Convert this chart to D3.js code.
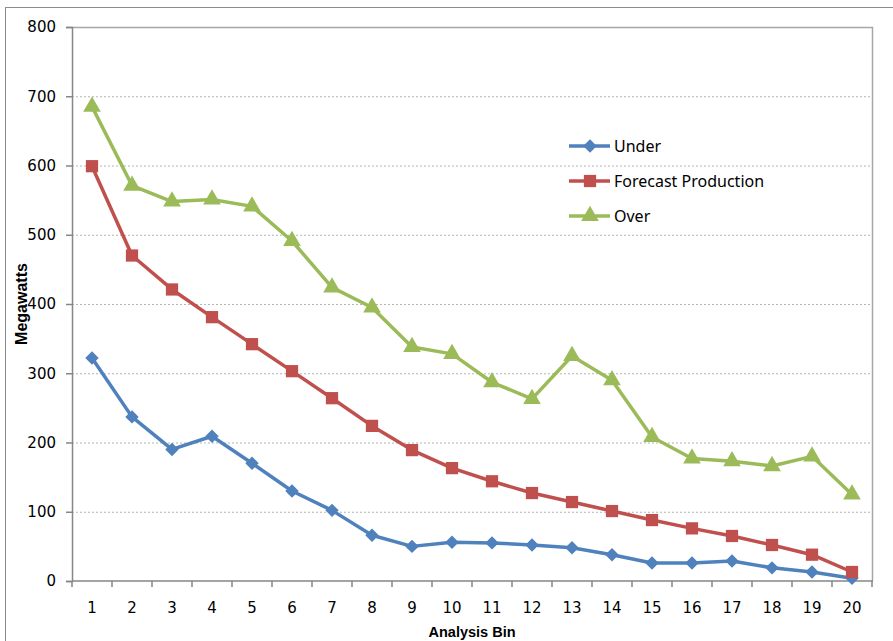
<!DOCTYPE html>
<html>
<head>
<meta charset="utf-8">
<script src="https://cdn.jsdelivr.net/npm/d3@7"></script>
<style>
  html, body { margin: 0; padding: 0; background: #fff; }
  svg { display: block; }
</style>
</head>
<body>
<svg id="chart" width="893" height="641"></svg>
<script>
// Analysis bins along the x axis
const bins = d3.range(1, 21);

// Megawatt values per bin for each series
const underValues    = [322, 237, 190, 209, 170, 130, 102, 66, 50, 56, 55, 52, 48, 38, 26, 26, 29, 19, 13, 4];
const forecastValues = [599, 470, 421, 381, 342, 303, 264, 224, 189, 163, 144, 127, 114, 101, 88, 76, 65, 52, 38, 13];
const overValues     = [685, 571, 548, 551, 541, 491, 424, 395, 338, 328, 287, 263, 325, 290, 208, 177, 173, 166, 180, 125];

const yTicks = [0, 100, 200, 300, 400, 500, 600, 700, 800];

const seriesNames  = ["Under", "Forecast Production", "Over"];
const seriesColors = ["#4F81BD", "#C0504D", "#9BBB59"];

// Square diamond (a square turned 45 degrees)
const wideDiamond = {
  draw(context, size) {
    const r = Math.sqrt(size / 2);
    context.moveTo(0, -r);
    context.lineTo(r, 0);
    context.lineTo(0, r);
    context.lineTo(-r, 0);
    context.closePath();
  }
};
const seriesShapes = [wideDiamond, d3.symbolSquare, d3.symbolTriangle];
const seriesSizes  = [90, 150, 135];
const seriesData   = [underValues, forecastValues, overValues];

const svg = d3.select("#chart");

// Outer chart frame
svg.append("rect")
  .attr("x", 5.5).attr("y", 7.5)
  .attr("width", 900).attr("height", 660)
  .attr("fill", "none").attr("stroke", "#8c8c8c").attr("stroke-width", 1);

const plotLeft = 72, plotRight = 872, plotTop = 27, plotBottom = 581;

const x = d3.scaleBand().domain(bins).range([plotLeft, plotRight]);
const y = d3.scaleLinear().domain([0, 800]).range([plotBottom, plotTop]);

// Dotted horizontal gridlines
svg.append("g").selectAll("line")
  .data(yTicks.filter(t => t > 0 && t < 800))
  .join("line")
  .attr("x1", plotLeft).attr("x2", plotRight)
  .attr("y1", d => y(d) + 0.5).attr("y2", d => y(d) + 0.5)
  .attr("stroke", "#b4b4b4").attr("stroke-width", 1)
  .attr("stroke-dasharray", "2,2");

// Plot area border on top and right
svg.append("path")
  .attr("d", `M${plotLeft},${plotTop + 0.5}H${plotRight + 0.5}V${plotBottom}`)
  .attr("fill", "none").attr("stroke", "#a6a6a6").attr("stroke-width", 1.5);

// Y axis
const yAxis = d3.axisLeft(y).tickValues(yTicks).tickSize(6).tickPadding(10);
const gy = svg.append("g").attr("transform", `translate(${plotLeft},0)`).call(yAxis);
gy.select(".domain").attr("stroke", "#868686").attr("stroke-width", 1.5);
gy.selectAll(".tick line").attr("stroke", "#868686").attr("stroke-width", 1.5);
gy.selectAll(".tick text")
  .attr("font-family", "DejaVu Sans").attr("font-size", 15).attr("fill", "#000");

// X axis: labels at bin centres, ticks at bin boundaries
const xAxis = d3.axisBottom(x).tickSize(0).tickPadding(21);
const gx = svg.append("g").attr("transform", `translate(0,${plotBottom})`).call(xAxis);
gx.select(".domain").remove();
gx.selectAll(".tick text")
  .attr("font-family", "DejaVu Sans").attr("font-size", 15).attr("fill", "#000");
svg.append("line")
  .attr("x1", plotLeft).attr("x2", plotRight + 1)
  .attr("y1", plotBottom).attr("y2", plotBottom)
  .attr("stroke", "#868686").attr("stroke-width", 1.5);
svg.append("g").selectAll("line")
  .data(bins.map(b => x(b)).concat([plotRight]))
  .join("line")
  .attr("x1", d => d).attr("x2", d => d)
  .attr("y1", plotBottom).attr("y2", plotBottom + 6)
  .attr("stroke", "#868686").attr("stroke-width", 1.5);

// Axis titles
svg.append("text")
  .attr("x", (plotLeft + plotRight) / 2).attr("y", 637)
  .attr("text-anchor", "middle")
  .attr("font-family", "Liberation Sans").attr("font-weight", "bold")
  .attr("font-size", 14.5).attr("fill", "#000")
  .text("Analysis Bin");

svg.append("text")
  .attr("transform", `translate(27,${(plotTop + plotBottom) / 2}) rotate(-90)`)
  .attr("text-anchor", "middle")
  .attr("font-family", "Liberation Sans").attr("font-weight", "bold")
  .attr("font-size", 16).attr("fill", "#000")
  .text("Megawatts");

// Series lines and markers
const line = d3.line()
  .x((d, i) => x(bins[i]) + x.bandwidth() / 2)
  .y(d => y(d));

seriesData.forEach((vals, s) => {
  svg.append("path")
    .datum(vals)
    .attr("d", line)
    .attr("fill", "none")
    .attr("stroke", seriesColors[s])
    .attr("stroke-width", 3.5)
    .attr("stroke-linejoin", "round");
  svg.append("g").selectAll("path")
    .data(vals)
    .join("path")
    .attr("transform", (d, i) => `translate(${x(bins[i]) + x.bandwidth() / 2},${y(d)})`)
    .attr("d", d3.symbol().type(seriesShapes[s]).size(seriesSizes[s]))
    .attr("fill", seriesColors[s]);
});

// Legend
const legend = svg.append("g");
seriesNames.forEach((name, s) => {
  const ly = 146 + s * 35;
  legend.append("line")
    .attr("x1", 569).attr("x2", 610).attr("y1", ly).attr("y2", ly)
    .attr("stroke", seriesColors[s]).attr("stroke-width", 3.5);
  legend.append("path")
    .attr("transform", `translate(590,${ly})`)
    .attr("d", d3.symbol().type(seriesShapes[s]).size(seriesSizes[s]))
    .attr("fill", seriesColors[s]);
  legend.append("text")
    .attr("x", 614).attr("y", ly + 6)
    .attr("font-family", "Noto Sans").attr("font-size", 16)
    .attr("fill", "#000")
    .text(name);
});
</script>
</body>
</html>
